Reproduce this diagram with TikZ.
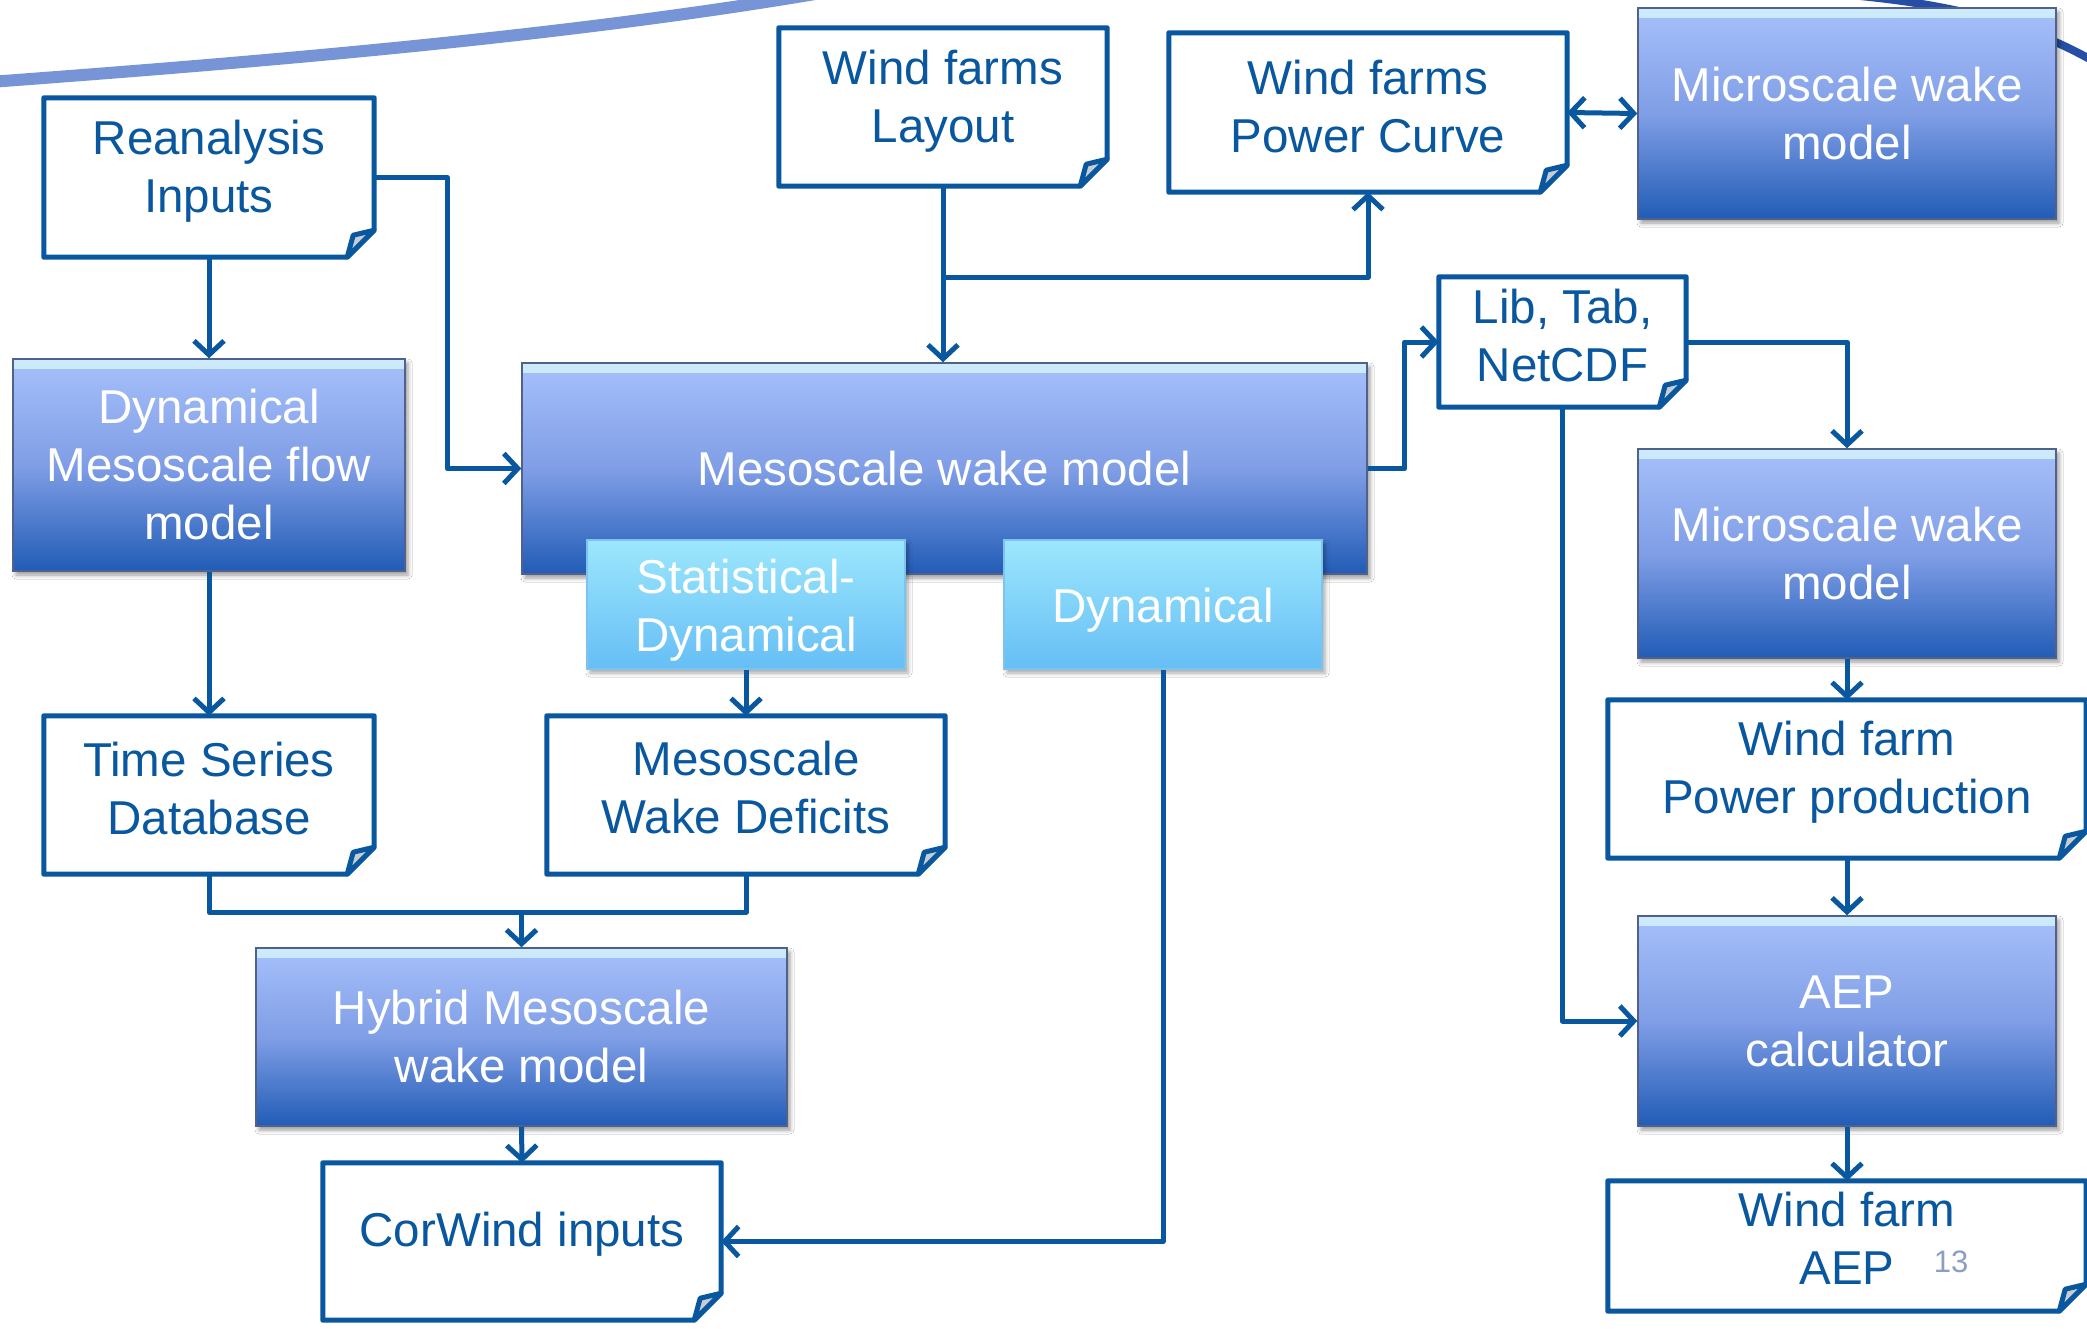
\documentclass[tikz,border=0pt]{standalone}
\usepackage{fontspec}
\setmainfont{Liberation Sans}
\usetikzlibrary{arrows.meta,shadows.blur,calc}

\definecolor{lineblue}{RGB}{9,87,158}
\definecolor{btop}{RGB}{166,192,250}
\definecolor{bmid}{RGB}{128,158,230}
\definecolor{bbot}{RGB}{33,92,182}
\definecolor{bedge}{RGB}{80,98,140}
\definecolor{ctop}{RGB}{156,231,253}
\definecolor{cbot}{RGB}{102,190,245}
\definecolor{cedge}{RGB}{125,195,238}
\definecolor{bevel}{RGB}{205,235,250}
\definecolor{foldgrey}{RGB}{200,205,212}
\definecolor{pagenum}{RGB}{140,158,195}
\definecolor{swooshlight}{RGB}{118,148,214}
\definecolor{swooshdark}{RGB}{38,78,165}

\tikzset{
  bigtext/.style={font=\fontsize{47.5}{58}\selectfont, align=center},
  docbox/.style={inner sep=0pt},
  doctext/.style={bigtext, text=lineblue},
  docline/.style={draw=lineblue, line width=5pt, line join=round},
  modelbox/.style={bigtext, text=white, draw=bedge, line width=1.5pt,
    top color=btop, bottom color=bbot, middle color=bmid,
    blur shadow={shadow xshift=3pt, shadow yshift=-4pt, shadow blur radius=4pt, shadow opacity=40},
    path picture={\shade[top color=bevel, bottom color=btop]
      (path picture bounding box.north west) rectangle ([yshift=-9pt]path picture bounding box.north east);}},
  methodbox/.style={draw=cedge, line width=1.5pt, inner sep=0pt,
    top color=ctop, bottom color=cbot,
    blur shadow={shadow xshift=3pt, shadow yshift=-4pt, shadow blur radius=4pt, shadow opacity=35}},
  methodtext/.style={bigtext, text=white},
  conn/.style={draw=lineblue, line width=5pt, line join=round,
    -{Straight Barb[length=14pt,width=30pt]}},
  link/.style={draw=lineblue, line width=5pt, line join=round},
}

% outline of a document symbol with a folded lower right corner
\newcommand\docoutline[1]{%
  \draw[docline] (#1.north west) -- (#1.north east) -- ([yshift=27pt]#1.south east)
    -- ([xshift=-27pt]#1.south east) -- (#1.south west) -- cycle;
  \filldraw[docline, fill=foldgrey] ([yshift=27pt]#1.south east)
    -- ([xshift=-21pt,yshift=22pt]#1.south east) -- ([xshift=-27pt]#1.south east) -- cycle;
}

\begin{document}
\begin{tikzpicture}[x=1pt, y=-1pt]
\useasboundingbox[fill=white] (0,0) rectangle (2087,1328);

% background swooshes
\draw[swooshlight, line width=12pt] (-10,82) .. controls (260,62) and (560,37) .. (815,-6);
\draw[swooshdark, line width=8pt] (1860,-4) .. controls (1960,6) and (2030,25) .. (2095,62);

% document boxes
\node[docbox, minimum width=330, minimum height=159] (rean) at (209,177.5) {};
\node[docbox, minimum width=330, minimum height=158] (tsdb) at (209,795) {};
\node[docbox, minimum width=328, minimum height=158] (layout) at (943,107) {};
\node[docbox, minimum width=398, minimum height=159] (pcurve) at (1368,112.5) {};
\node[docbox, minimum width=247, minimum height=130] (lib) at (1562.5,342) {};
\node[docbox, minimum width=398, minimum height=158] (deficits) at (746,795) {};
\node[docbox, minimum width=478, minimum height=158] (power) at (1847,779) {};
\node[docbox, minimum width=398, minimum height=157] (corwind) at (522,1241.5) {};
\node[docbox, minimum width=478, minimum height=130] (aep) at (1847,1246) {};

\foreach \d in {rean,tsdb,layout,pcurve,lib,deficits,power,corwind,aep}{\docoutline{\d}}

\node[doctext] (rean-t) at ([yshift=6pt]rean.center) {Reanalysis\\Inputs};
\node[doctext] (tsdb-t) at ([yshift=6pt]tsdb.center) {Time Series\\Database};
\node[doctext] (layout-t) at ([yshift=6pt]layout.center) {Wind farms\\Layout};
\node[doctext] (pcurve-t) at ([yshift=6pt]pcurve.center) {Wind farms\\Power Curve};
\node[doctext] (lib-t) at ([yshift=6pt]lib.center) {Lib, Tab,\\NetCDF};
\node[doctext] (deficits-t) at ([yshift=7pt]deficits.center) {Mesoscale\\Wake Deficits};
\node[doctext] (power-t) at ([yshift=7pt]power.center) {Wind farm\\Power production};
\node[doctext] (corwind-t) at ([yshift=7pt]corwind.center) {CorWind inputs};
\node[doctext] (aep-t) at ([yshift=8pt]aep.center) {Wind farm\\AEP};
\node[text=pagenum, font=\fontsize{31}{38}\selectfont] (pageno) at (1951,1262) {13};

% model boxes
\node[modelbox, minimum width=392, minimum height=212] (dynflow) at (209,465) {Dynamical\\Mesoscale flow\\model};
\node[modelbox, minimum width=845, minimum height=211] (meso) at (944.5,468.5) {Mesoscale wake model};
\node[modelbox, minimum width=418, minimum height=211] (micro1) at (1847,113.5) {Microscale wake\\model};
\node[modelbox, minimum width=418, minimum height=209] (micro2) at (1847,553.5) {Microscale wake\\model};
\node[modelbox, minimum width=531, minimum height=178] (hybrid) at (521.5,1037) {Hybrid Mesoscale\\wake model};
\node[modelbox, minimum width=418, minimum height=210] (aepcalc) at (1847,1021) {AEP\\calculator};

% method variants of the mesoscale wake model
\node[methodbox, minimum width=318, minimum height=129] (statdyn) at (746,604.5) {};
\node[methodbox, minimum width=318, minimum height=129] (dyn) at (1163,604.5) {};
\node[methodtext] (statdyn-t) at ([yshift=-6pt]statdyn.center) {Statistical-\\Dynamical};
\node[methodtext] (dyn-t) at ([yshift=-6pt]dyn.center) {Dynamical};

% connectors
\coordinate (ybranch) at (0,277);
\coordinate (yjoin) at (0,912);

\draw[conn] (rean.south) -- (dynflow.north);
\draw[conn] (rean.east) -- ++(73,0) |- (meso.west);
\draw[conn] (dynflow.south) -- (tsdb.north);
\draw[conn] (layout.south) -- (layout.south |- meso.north);
\draw[conn] (layout.south |- ybranch) -| (pcurve.south);
\draw[conn, {Straight Barb[length=14pt,width=30pt]}-{Straight Barb[length=14pt,width=30pt]}] (pcurve.east) -- (micro1.west);
\draw[conn] (meso.east) -- ++(37,0) |- (lib.west);
\draw[conn] (lib.east) -| (micro2.north);
\draw[conn] (lib.south) |- (aepcalc.west);
\draw[conn] (micro2.south) -- (power.north);
\draw[conn] (power.south) -- (aepcalc.north);
\draw[conn] (aepcalc.south) -- (aep.north);
\draw[conn] (statdyn.south) -- (deficits.north);
\draw[link] (tsdb.south) |- (yjoin -| deficits.south) -- (deficits.south);
\draw[conn] (hybrid.north |- yjoin) -- (hybrid.north);
\draw[conn] (hybrid.south) -- (corwind.north);
\draw[conn] (dyn.south) |- (corwind.east);
\end{tikzpicture}
\end{document}
